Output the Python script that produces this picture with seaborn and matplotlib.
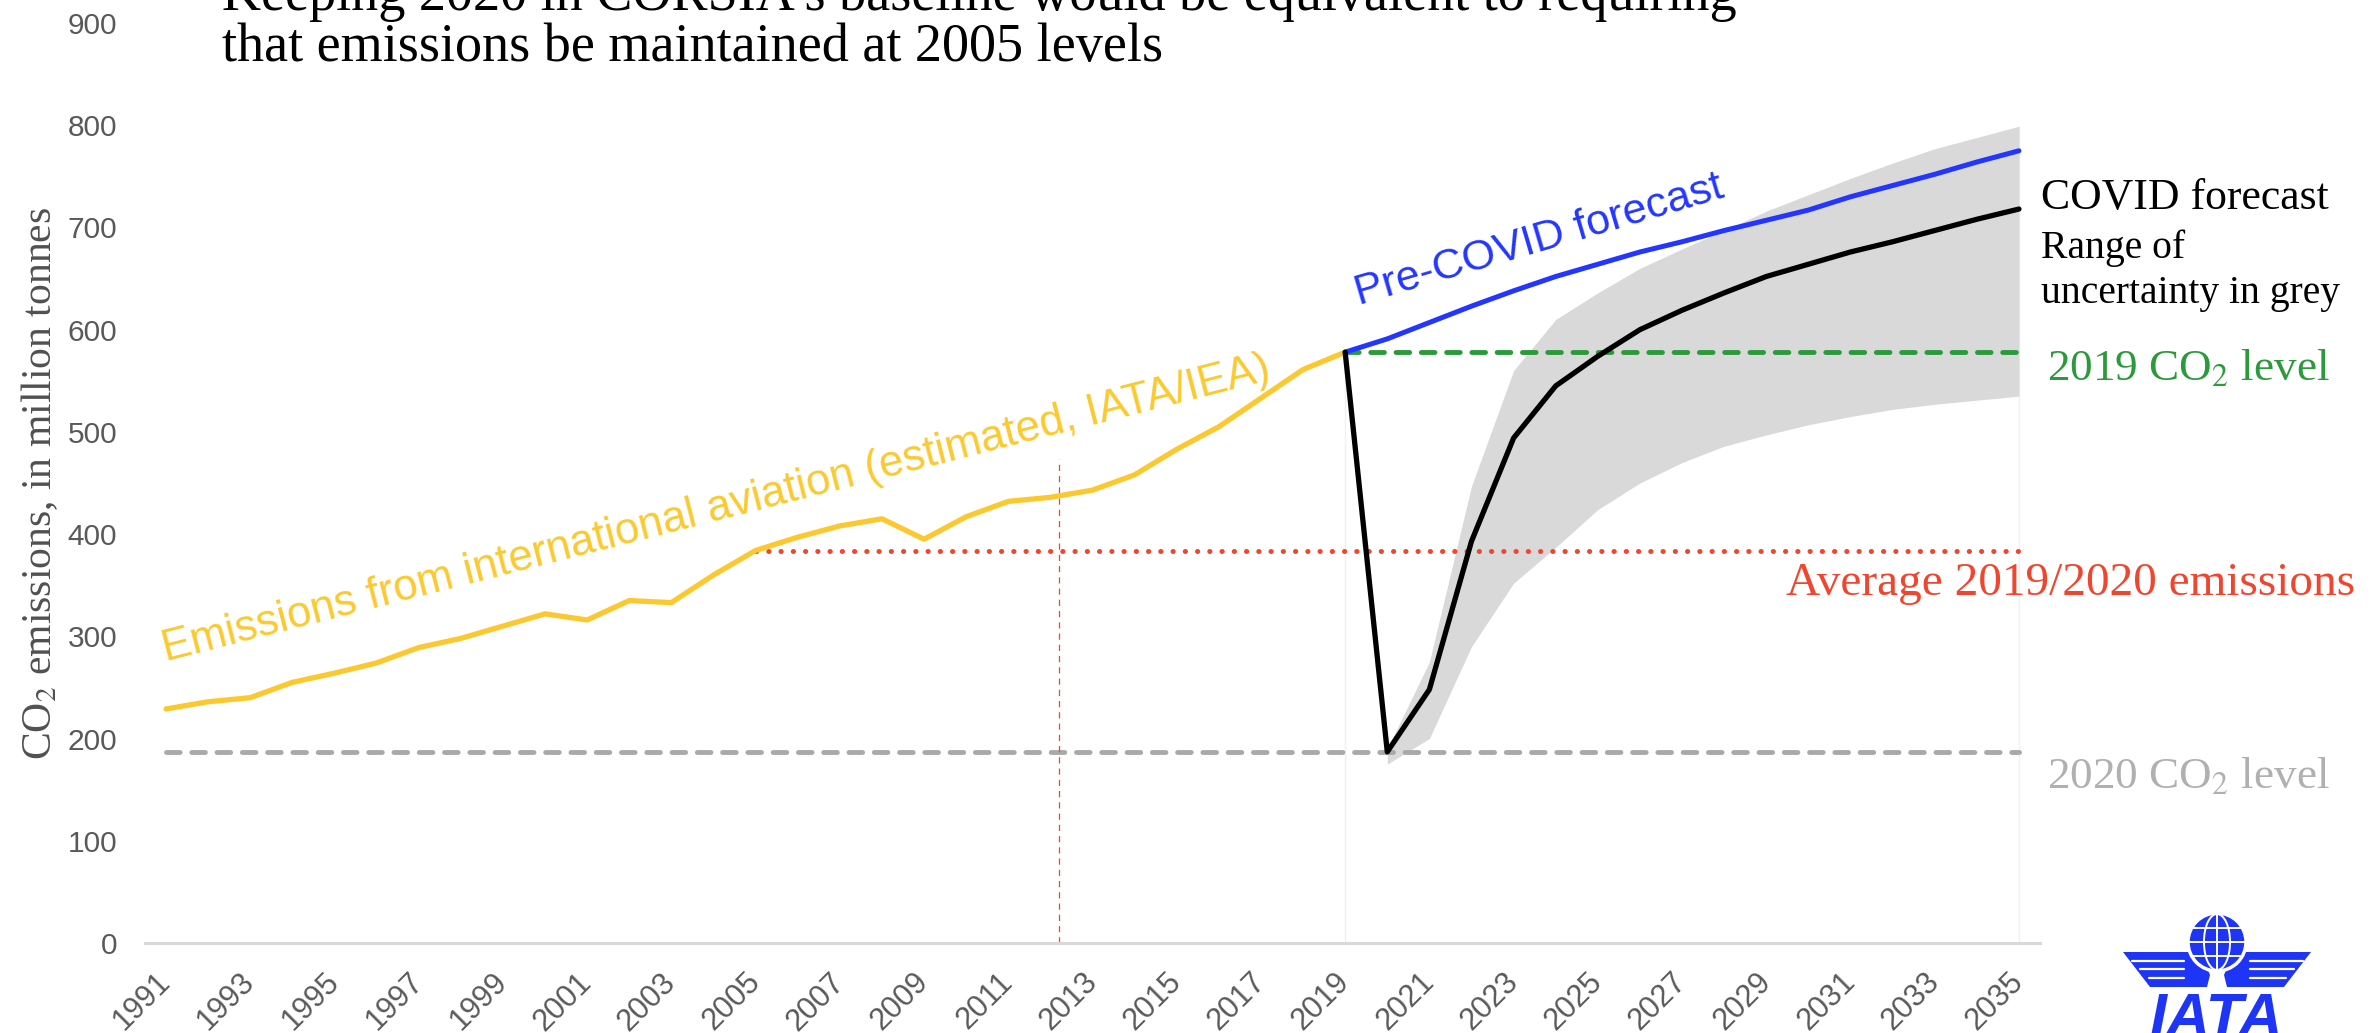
import numpy as np
import pandas as pd
import matplotlib
matplotlib.use("Agg")
import matplotlib.pyplot as plt
import seaborn as sns
from matplotlib.patches import Circle, Ellipse, Polygon

# ---------------- data ----------------
hist_years = list(range(1991, 2020))
hist_emissions = [229, 236, 240, 255, 264, 274, 289, 298, 310, 322, 316, 335, 333, 360,
                  384, 397, 408, 415, 395, 417, 432, 436, 443, 458, 483, 505, 533, 561, 578]

fc_years = list(range(2019, 2036))
precovid = [578, 591, 607, 623, 638, 652, 664, 676, 686, 697, 707, 717, 730, 741, 752, 764, 775]
covid = [578, 187, 248, 393, 494, 545, 574, 600, 619, 636, 652, 664, 676, 686, 697, 708, 718]

band_years = list(range(2020, 2036))
band_low = [175, 200, 290, 352, 387, 424, 450, 470, 486, 497, 507, 515, 522, 527, 531, 535]
band_high = [190, 275, 447, 560, 610, 636, 660, 679, 697, 716, 732, 748, 763, 777, 788, 799]

level_2019 = 578
level_2020 = 187
avg_level = 383
avg_start_year = 2005
first_year, last_year = 1991, 2035
marker_year = 2012.2
marker_top = 473

ytick_values = list(range(0, 1000, 100))
xtick_years = list(range(1991, 2036, 2))

title_line1 = "Keeping 2020 in CORSIA's baseline would be equivalent to requiring"
title_line2 = "that emissions be maintained at 2005 levels"

# ---------------- colours ----------------
YELLOW = "#FBC92F"
BLUE = "#2336FF"
GREEN = "#2A9A3A"
RED = "#F0462F"
GREY = "#A9A9A9"
BAND = "#D9D9D9"
TICK = "#595959"
LOGO = "#1F35F5"

sns.set_theme(style="white")
plt.rcParams['font.family'] = ['Liberation Sans', 'DejaVu Sans']
plt.rcParams['mathtext.fontset'] = 'stix'

W, H = 2374, 1033
fig = plt.figure(figsize=(W / 100, H / 100), dpi=100)
fig.patch.set_facecolor("white")
ax = fig.add_axes([145 / W, 90 / H, 1895 / W, 920 / H])
ax.set_facecolor("white")

hist_df = pd.DataFrame({"year": hist_years, "value": hist_emissions})
fc_df = pd.DataFrame({"year": fc_years, "pre": precovid, "covid": covid})

# faint vertical guides
ax.vlines(fc_years[0], 0, level_2019, color="#F0F0F0", lw=1, zorder=0.5)
ax.vlines(fc_years[-1], 0, max(band_high), color="#F0F0F0", lw=1, zorder=0.5)

# uncertainty band
ax.fill_between(band_years, band_low, band_high, color=BAND, lw=0, zorder=1)

# reference levels
ax.hlines(level_2020, first_year, last_year, color=GREY, lw=3.5,
          linestyles=(0, (2.8, 2.4)), capstyle="round", zorder=2)
ax.hlines(level_2019, fc_years[0], last_year, color=GREEN, lw=3.5,
          linestyles=(0, (2.8, 2.4)), capstyle="round", zorder=2.5)
ax.hlines(avg_level, avg_start_year, last_year, color=RED, lw=3.6,
          linestyles=(0, (0.05, 2.4)), capstyle="round", zorder=2)
ax.vlines(marker_year, 0, marker_top, color=RED, lw=0.9,
          linestyles=(0, (5, 4)), zorder=2)

line_kw = dict(solid_joinstyle="round", solid_capstyle="round")
sns.lineplot(data=hist_df, x="year", y="value", ax=ax, color=YELLOW, lw=3.8, zorder=3, **line_kw)
sns.lineplot(data=fc_df, x="year", y="pre", ax=ax, color=BLUE, lw=3.6, zorder=3, **line_kw)
sns.lineplot(data=fc_df, x="year", y="covid", ax=ax, color="black", lw=3.8, zorder=4, **line_kw)

ax.set_xlim(first_year - 0.5, last_year + 0.5)
ax.set_ylim(0, 900)
for s in ["top", "right", "left"]:
    ax.spines[s].set_visible(False)
ax.spines["bottom"].set_color("#D9D9D9")
ax.spines["bottom"].set_linewidth(2.2)

ax.set_yticks(ytick_values)
ax.set_yticklabels([str(v) for v in ytick_values])
ax.set_xticks(xtick_years)
ax.set_xticklabels([str(y) for y in xtick_years], rotation=45, ha="right", va="center",
                   rotation_mode="anchor")
ax.tick_params(axis="y", length=0, pad=20, labelsize=21.5, labelcolor=TICK)
ax.tick_params(axis="x", length=0, pad=25, labelsize=22, labelcolor=TICK)
ax.set_xlabel("")
ax.set_ylabel(r"CO$_2$ emissions, in million tonnes", fontsize=30, color="#505050",
              family=["Liberation Serif", "DejaVu Serif"])
ax.yaxis.set_label_coords(-0.045, 0.5)

# in-plot series labels
ax.text(1991.0, 276, "Emissions from international aviation (estimated, IATA/IEA)",
        rotation=14.3, rotation_mode="anchor", ha="left", va="baseline",
        fontsize=31.5, color=YELLOW, zorder=5)
ax.text(2019.33, 624, "Pre-COVID forecast", rotation=16.4, rotation_mode="anchor",
        ha="left", va="baseline", fontsize=31, color=BLUE, zorder=5)

serif = ["Liberation Serif", "DejaVu Serif"]
def ftext(x, y, s, **kw):
    fig.text(x / W, 1 - y / H, s, family=serif, **kw)

ftext(222, 10, title_line1, fontsize=39, va="baseline", ha="left", color="black")
ftext(222, 61, title_line2, fontsize=39, va="baseline", ha="left", color="black")

ftext(2041, 198, "COVID forecast", fontsize=31.5, va="center", color="black")
ftext(2041, 248, "Range of", fontsize=28.5, va="center", color="black")
ftext(2041, 293, "uncertainty in grey", fontsize=28.5, va="center", color="black")
ftext(2047, 368, r"2019 CO$_2$ level", fontsize=32.5, va="center", color=GREEN)
ftext(2355, 584, "Average 2019/2020 emissions", fontsize=34, va="center", ha="right", color=RED)
ftext(2047, 777, r"2020 CO$_2$ level", fontsize=32.5, va="center", color="#B0B0B0")

# ---------------- IATA logo ----------------
lax = fig.add_axes([2100 / W, 0, 240 / W, 180 / H])
lax.set_xlim(2100, 2340)
lax.set_ylim(1033, 853)
lax.axis("off")
cx, cy, r = 2217, 942, 29
for sgn in (-1, 1):
    pts = [(cx + sgn * 94, 952), (cx + sgn * 27, 952), (cx + sgn * 14, 958),
           (cx + sgn * 7, 975), (cx + sgn * 10, 987), (cx + sgn * 67, 987)]
    lax.add_patch(Polygon(pts, closed=True, color=LOGO, lw=0))
    for k, yy in enumerate([960.5, 969.3, 978.1]):
        x_out = cx + sgn * (94 - (k + 1) * 8.5)
        lax.plot([x_out, cx + sgn * 33], [yy, yy], color="white", lw=1.6)
lax.add_patch(Circle((cx, cy), r, facecolor=LOGO, edgecolor="white", lw=2.5))
lax.add_patch(Ellipse((cx, cy), 0.9 * r, 2 * r - 2, facecolor="none", edgecolor="white", lw=1.4))
lax.plot([cx, cx], [cy - r + 1, cy + r - 1], color="white", lw=1.4)
for dy in (-14, 0, 14):
    half = np.sqrt(r * r - dy * dy) - 1
    lax.plot([cx - half, cx + half], [cy + dy, cy + dy], color="white", lw=1.4)
lax.text(cx, 992, "IATA", ha="center", va="top", fontsize=44, fontweight="bold",
         fontstyle="italic", color=LOGO)

fig.savefig("out.png", dpi=100, facecolor="white")
